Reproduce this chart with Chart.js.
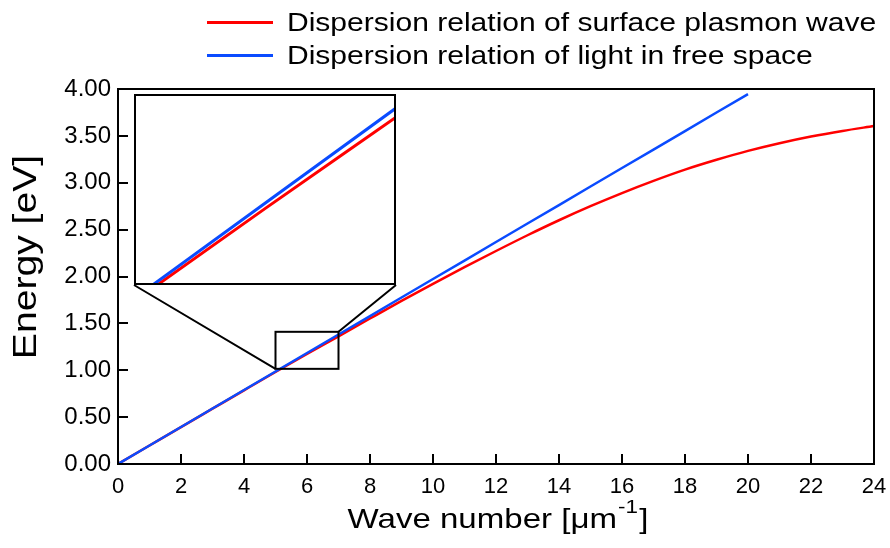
<!DOCTYPE html>
<html>
<head>
<meta charset="utf-8">
<script src="https://cdn.jsdelivr.net/npm/chart.js@4.4.1/dist/chart.umd.min.js"></script>
<style>
  body { margin: 0; background: #fff; }
  #wrap { position: relative; width: 890px; height: 548px; }
  #mainChart { position: absolute; left: 0; top: 0; }
  #insetBox { position: absolute; left: 134px; top: 94px; width: 262px; height: 191px; background: #fff; }
  #legend {
    position: absolute; left: 207px; top: 6px;
    font-family: 'Liberation Sans', Arial, sans-serif; font-size: 26px; color: #000;
  }
  .legend-item { display: flex; align-items: center; height: 33px; line-height: 33px; }
  .legend-line { width: 66px; height: 3px; margin-right: 14px; }
  .legend-text { display: inline-block; transform: scaleX(1.155); transform-origin: left center; white-space: nowrap; }
</style>
</head>
<body>
<div id="wrap">
  <canvas id="mainChart" width="890" height="548"></canvas>
  <div id="insetBox"><canvas id="insetChart" width="262" height="191"></canvas></div>
  <div id="legend"></div>
</div>
<script>
// wave number [1/um] and energy [eV]
const waveNumber = [0, 1, 2, 3, 4, 5, 6, 7, 8, 9, 10, 11, 12, 13, 14, 15, 16, 17, 18, 19, 20, 21, 22, 23, 24];
const plasmonEnergy = [0, 0.197, 0.394, 0.590, 0.786, 0.981, 1.173, 1.362, 1.552, 1.740, 1.922, 2.100, 2.272,
  2.440, 2.600, 2.750, 2.890, 3.020, 3.140, 3.245, 3.340, 3.422, 3.493, 3.553, 3.605];
const lightWaveNumber = [0, 1, 2, 3, 4, 5, 6, 7, 8, 9, 10, 11, 12, 13, 14, 15, 16, 17, 18, 19, 20];
const lightEnergy = [0, 0.197, 0.395, 0.592, 0.789, 0.987, 1.184, 1.381, 1.578, 1.776, 1.973, 2.170, 2.368,
  2.565, 2.762, 2.960, 3.157, 3.354, 3.551, 3.749, 3.946];
const seriesNames = ['Dispersion relation of surface plasmon wave', 'Dispersion relation of light in free space'];
const seriesColors = ['#ff0000', '#0a4bff'];

// magnified window (data units)
const zoomX = [5, 7];
const zoomY = [1.015, 1.41];

const FONT = "'Liberation Sans', Arial, sans-serif";
Chart.defaults.font.family = FONT;
Chart.defaults.color = '#000';

const toPoints = (xs, ys) => xs.map((x, i) => ({ x, y: ys[i] }));

// light line is drawn over the plasmon curve (lower order = on top)
function makeDatasets(width) {
  return [
    { label: seriesNames[0], data: toPoints(waveNumber, plasmonEnergy), borderColor: seriesColors[0],
      borderWidth: width, pointRadius: 0, cubicInterpolationMode: 'monotone', order: 1 },
    { label: seriesNames[1], data: toPoints(lightWaveNumber, lightEnergy), borderColor: seriesColors[1],
      borderWidth: width, pointRadius: 0, order: 0 }
  ];
}

/* frame, zoom box, connectors and axis titles */
const decorPlugin = {
  id: 'decor',
  afterDraw(chart) {
    const { ctx, chartArea: a, scales: { x, y } } = chart;
    ctx.save();
    ctx.strokeStyle = '#000';
    ctx.lineWidth = 2;
    ctx.strokeRect(a.left, a.top, a.right - a.left, a.bottom - a.top);

    const bx1 = x.getPixelForValue(zoomX[0]), bx2 = x.getPixelForValue(zoomX[1]);
    const byTop = y.getPixelForValue(zoomY[1]), byBot = y.getPixelForValue(zoomY[0]);
    ctx.strokeRect(bx1, byTop, bx2 - bx1, byBot - byTop);

    const inset = document.getElementById('insetBox');
    const il = inset.offsetLeft, ir = il + inset.offsetWidth, ib = inset.offsetTop + inset.offsetHeight;
    ctx.beginPath();
    ctx.moveTo(il, ib); ctx.lineTo(bx1, byBot);
    ctx.moveTo(ir, ib); ctx.lineTo(bx2, byTop);
    ctx.stroke();

    // x title with superscript
    ctx.fillStyle = '#000';
    ctx.textBaseline = 'alphabetic';
    const main = 'Wave number [\u03bcm', sup = '-1', close = ']';
    ctx.font = '28px ' + FONT;
    const wMain = ctx.measureText(main).width, wClose = ctx.measureText(close).width;
    ctx.font = '19px ' + FONT;
    const wSup = ctx.measureText(sup).width;
    const sx = 1.18;
    const total = (wMain + wSup + wClose + 2) * sx;
    ctx.save();
    ctx.translate((a.left + a.right) / 2 + 2 - total / 2, 528);
    ctx.scale(sx, 1);
    ctx.font = '28px ' + FONT;
    ctx.fillText(main, 0, 0);
    ctx.font = '19px ' + FONT;
    ctx.fillText(sup, wMain + 1, -15);
    ctx.font = '28px ' + FONT;
    ctx.fillText(close, wMain + wSup + 2, 0);
    ctx.restore();

    // y title
    ctx.save();
    ctx.translate(27, 257);
    ctx.rotate(-Math.PI / 2);
    ctx.scale(1.15, 1);
    ctx.font = '34px ' + FONT;
    ctx.textAlign = 'center';
    ctx.textBaseline = 'middle';
    ctx.fillText('Energy [eV]', 0, 0);
    ctx.restore();

    ctx.restore();
  }
};

new Chart(document.getElementById('mainChart'), {
  type: 'line',
  data: { datasets: makeDatasets(2.5) },
  options: {
    responsive: false,
    animation: false,
    layout: { padding: { top: 89, right: 16 } },
    plugins: { legend: { display: false }, tooltip: { enabled: false } },
    scales: {
      x: {
        type: 'linear', min: 0, max: 24,
        border: { display: true, color: '#000', width: 2 },
        grid: { drawOnChartArea: false, drawTicks: true, tickLength: -10, color: '#000', lineWidth: 2 },
        ticks: { stepSize: 2, padding: 20, font: { size: 22 }, maxRotation: 0 },
        afterFit: s => { s.height = 84; s.paddingLeft = 0; s.paddingRight = 0; }
      },
      y: {
        type: 'linear', min: 0, max: 4,
        border: { display: true, color: '#000', width: 2 },
        grid: { drawOnChartArea: false, drawTicks: true, tickLength: -10, color: '#000', lineWidth: 2 },
        ticks: { stepSize: 0.5, padding: 17, font: { size: 24 }, callback: v => v.toFixed(2) },
        afterFit: s => { s.width = 118; }
      }
    }
  },
  plugins: [decorPlugin]
});

/* magnified inset */
const insetFramePlugin = {
  id: 'insetFrame',
  afterDraw(chart) {
    const { ctx, width, height } = chart;
    ctx.save();
    ctx.strokeStyle = '#000';
    ctx.lineWidth = 2;
    ctx.strokeRect(1, 1, width - 2, height - 2);
    ctx.restore();
  }
};

new Chart(document.getElementById('insetChart'), {
  type: 'line',
  data: { datasets: makeDatasets(3) },
  options: {
    responsive: false,
    animation: false,
    layout: { padding: 0 },
    plugins: { legend: { display: false }, tooltip: { enabled: false } },
    scales: {
      x: { type: 'linear', min: zoomX[0], max: zoomX[1], display: false },
      y: { type: 'linear', min: zoomY[0], max: zoomY[1], display: false }
    }
  },
  plugins: [insetFramePlugin]
});

// custom legend
document.getElementById('legend').innerHTML = seriesNames.map((name, i) =>
  `<div class="legend-item">
    <span class="legend-line" style="background:${seriesColors[i]}"></span>
    <span class="legend-text">${name}</span>
  </div>`
).join('');
</script>
</body>
</html>
